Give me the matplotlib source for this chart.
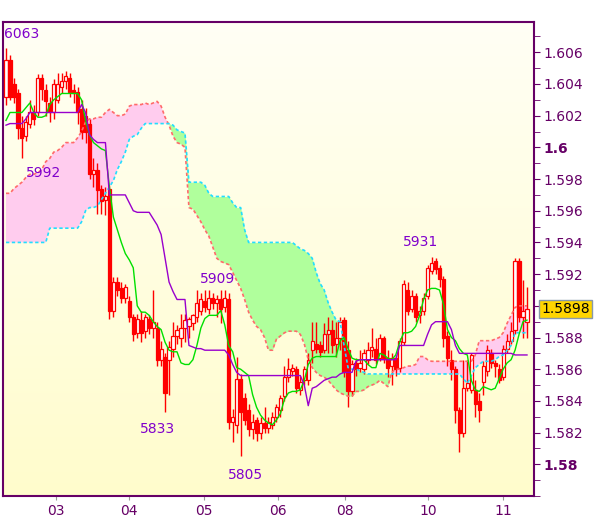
"""
Hourly candles with Ichimoku lines (tenkan, kijun, cloud) - redraw of a trading chart.
Values are kept in pips: price = 1 + pips / 10000
"""

import numpy as np
import matplotlib
matplotlib.use("Agg")
import matplotlib.pyplot as plt
from matplotlib.ticker import MultipleLocator

OUTPUT_IMAGE = "out.png"

# ── Candles (pips) ─────────────────────────────────
opens = [6032, 6055, 6040, 6034, 6012, 6007, 6015, 6022, 6022, 6044,
         6036, 6028, 6022, 6030, 6038, 6042, 6044, 6036, 6035, 6024,
         6020, 6015, 5983, 5986, 5974, 5967, 5974, 5897, 5915, 5911,
         5905, 5903, 5893, 5883, 5891, 5884, 5892, 5886, 5886, 5866,
         5868, 5866, 5873, 5881, 5880, 5886, 5887, 5889, 5893, 5897,
         5903, 5898, 5905, 5902, 5904, 5899, 5904, 5827, 5825, 5854,
         5842, 5834, 5822, 5828, 5820, 5826, 5823, 5825, 5830, 5834,
         5843, 5855, 5859, 5860, 5847, 5853, 5853, 5872, 5876, 5875,
         5872, 5882, 5885, 5876, 5880, 5891, 5872, 5846, 5864, 5861,
         5860, 5866, 5872, 5873, 5867, 5880, 5867, 5862, 5867, 5861,
         5877, 5910, 5898, 5906, 5894, 5897, 5906, 5922, 5928, 5924,
         5917, 5881, 5866, 5860, 5834, 5820, 5848, 5847, 5847, 5840,
         5852, 5859, 5870, 5864, 5860, 5855, 5873, 5878, 5885, 5928,
         5893, 5890]
highs = [6063, 6058, 6044, 6037, 6020, 6020, 6030, 6027, 6046, 6046,
         6040, 6032, 6043, 6047, 6047, 6048, 6047, 6040, 6038, 6030,
         6025, 6018, 5993, 5990, 5976, 5975, 5976, 5918, 5918, 5915,
         5914, 5906, 5895, 5895, 5897, 5895, 5894, 5910, 5890, 5878,
         5870, 5878, 5890, 5888, 5895, 5895, 5893, 5895, 5910, 5908,
         5910, 5910, 5908, 5907, 5910, 5910, 5908, 5835, 5868, 5857,
         5845, 5838, 5832, 5830, 5830, 5836, 5830, 5833, 5838, 5844,
         5862, 5867, 5863, 5862, 5856, 5862, 5870, 5890, 5890, 5878,
         5889, 5893, 5891, 5890, 5893, 5893, 5878, 5866, 5867, 5872,
         5873, 5877, 5886, 5880, 5882, 5881, 5872, 5870, 5869, 5880,
         5916, 5915, 5910, 5908, 5900, 5908, 5926, 5931, 5930, 5926,
         5919, 5884, 5872, 5862, 5836, 5866, 5866, 5870, 5853, 5845,
         5865, 5875, 5873, 5866, 5863, 5875, 5882, 5890, 5930, 5930,
         5916, 5912]
lows = [6027, 6030, 6028, 6005, 5993, 6004, 6012, 6014, 6020, 6030,
        6020, 6016, 6018, 6028, 6034, 6037, 6032, 6028, 6015, 6005,
        6003, 5980, 5975, 5958, 5958, 5957, 5892, 5893, 5906, 5902,
        5902, 5890, 5878, 5880, 5877, 5880, 5882, 5880, 5862, 5862,
        5833, 5844, 5868, 5876, 5874, 5877, 5880, 5885, 5890, 5894,
        5896, 5895, 5898, 5893, 5889, 5896, 5822, 5814, 5820, 5805,
        5825, 5818, 5816, 5815, 5816, 5820, 5820, 5822, 5827, 5830,
        5840, 5852, 5856, 5845, 5844, 5850, 5850, 5864, 5870, 5868,
        5870, 5870, 5870, 5868, 5872, 5855, 5836, 5843, 5856, 5858,
        5857, 5863, 5868, 5863, 5865, 5864, 5855, 5850, 5856, 5858,
        5875, 5894, 5896, 5890, 5889, 5894, 5904, 5920, 5920, 5912,
        5874, 5862, 5853, 5826, 5808, 5817, 5846, 5845, 5830, 5827,
        5844, 5856, 5861, 5855, 5851, 5853, 5870, 5876, 5882, 5890,
        5880, 5880]
closes = [6055, 6032, 6032, 6012, 6006, 6016, 6022, 6018, 6044, 6037,
          6029, 6022, 6040, 6040, 6042, 6045, 6035, 6034, 6022, 6010,
          6010, 5983, 5986, 5973, 5966, 5969, 5897, 5915, 5910, 5905,
          5912, 5893, 5882, 5892, 5883, 5893, 5886, 5890, 5866, 5873,
          5845, 5874, 5881, 5885, 5886, 5891, 5892, 5894, 5902, 5904,
          5899, 5905, 5902, 5904, 5898, 5905, 5827, 5830, 5854, 5833,
          5828, 5822, 5827, 5820, 5826, 5823, 5827, 5830, 5836, 5842,
          5855, 5860, 5861, 5848, 5852, 5860, 5866, 5878, 5873, 5871,
          5882, 5885, 5875, 5880, 5890, 5858, 5846, 5863, 5860, 5864,
          5870, 5872, 5874, 5866, 5880, 5867, 5861, 5867, 5860, 5878,
          5914, 5897, 5906, 5893, 5897, 5905, 5924, 5927, 5923, 5917,
          5880, 5867, 5860, 5834, 5820, 5848, 5851, 5869, 5838, 5834,
          5862, 5872, 5864, 5862, 5853, 5873, 5878, 5884, 5928, 5893,
          5897, 5898]

# ── Ichimoku lines (pips) ──────────────────────────
tenkan = [6017, 6022, 6022, 6022, 6022, 6025, 6028, 6022, 6019, 6019,
          6020, 6027, 6030, 6032, 6034, 6034, 6034, 6034, 6034, 6030,
          6017, 6008, 6003, 6001, 5999, 5998, 5975, 5956, 5948, 5940,
          5933, 5929, 5924, 5900, 5896, 5896, 5894, 5890, 5887, 5885,
          5877, 5872, 5871, 5871, 5864, 5863, 5863, 5866, 5875, 5886,
          5892, 5894, 5894, 5894, 5897, 5888, 5875, 5871, 5861, 5860,
          5858, 5856, 5844, 5836, 5831, 5828, 5826, 5825, 5828, 5832,
          5841, 5845, 5846, 5846, 5847, 5853, 5863, 5867, 5868, 5868,
          5868, 5868, 5868, 5868, 5878, 5880, 5873, 5867, 5866, 5866,
          5866, 5863, 5861, 5861, 5870, 5869, 5867, 5866, 5869, 5877,
          5883, 5883, 5884, 5887, 5894, 5904, 5910, 5911, 5911, 5910,
          5901, 5885, 5880, 5878, 5873, 5870, 5869, 5853, 5847, 5846,
          5849, 5848, 5847, 5848, 5854, 5860, 5864, 5866, 5872, 5882,
          5890, 5891]
kijun = [6014, 6015, 6015, 6015, 6015, 6018, 6022, 6022, 6022, 6022,
         6022, 6022, 6022, 6022, 6022, 6022, 6022, 6022, 6022, 6027,
         6022, 6008, 6005, 6003, 6003, 6003, 5970, 5970, 5970, 5970,
         5970, 5965, 5960, 5959, 5959, 5959, 5959, 5955, 5951, 5945,
         5930, 5915, 5909, 5904, 5904, 5904, 5875, 5874, 5873, 5873,
         5872, 5872, 5872, 5872, 5872, 5872, 5869, 5863, 5858, 5856,
         5856, 5856, 5856, 5856, 5856, 5856, 5856, 5856, 5856, 5856,
         5856, 5856, 5856, 5856, 5856, 5850, 5837, 5848, 5849, 5851,
         5853, 5854, 5855, 5855, 5857, 5858, 5858, 5858, 5865, 5866,
         5866, 5866, 5866, 5866, 5866, 5866, 5866, 5866, 5866, 5875,
         5875, 5875, 5875, 5875, 5875, 5875, 5882, 5888, 5890, 5890,
         5890, 5890, 5885, 5875, 5870, 5870, 5870, 5870, 5870, 5870,
         5870, 5870, 5870, 5870, 5870, 5870, 5870, 5870, 5869, 5869,
         5869, 5869]
span_a = [5971, 5971, 5974, 5976, 5978, 5981, 5983, 5983, 5984, 5986,
          5991, 5993, 5997, 5998, 6000, 6003, 6003, 6003, 6006, 6010,
          6016, 6018, 6018, 6019, 6019, 6022, 6024, 6022, 6020, 6020,
          6021, 6026, 6027, 6027, 6027, 6028, 6027, 6028, 6029, 6026,
          6019, 6014, 6007, 6003, 6002, 6000, 5962, 5961, 5957, 5953,
          5948, 5944, 5937, 5930, 5928, 5927, 5926, 5921, 5916, 5911,
          5904, 5896, 5891, 5887, 5885, 5880, 5872, 5872, 5879, 5881,
          5883, 5884, 5884, 5884, 5882, 5876, 5866, 5861, 5858, 5856,
          5855, 5853, 5850, 5847, 5845, 5844, 5843, 5843, 5846, 5846,
          5847, 5849, 5850, 5851, 5853, 5851, 5849, 5858, 5860, 5860,
          5861, 5862, 5862, 5863, 5868, 5868, 5866, 5865, 5865, 5865,
          5865, 5865, 5865, 5865, 5865, 5865, 5865, 5865, 5869, 5878,
          5878, 5878, 5878, 5879, 5880, 5883, 5889, 5894, 5899, 5900,
          5900, 5900]
span_b = [5940, 5940, 5940, 5940, 5940, 5940, 5940, 5940, 5940, 5940,
          5940, 5949, 5949, 5949, 5949, 5949, 5949, 5949, 5949, 5953,
          5960, 5962, 5962, 5963, 5967, 5971, 5975, 5979, 5986, 5991,
          5997, 6005, 6007, 6008, 6012, 6015, 6015, 6015, 6015, 6015,
          6015, 6015, 6014, 6011, 6010, 6009, 5978, 5978, 5978, 5978,
          5976, 5971, 5969, 5969, 5969, 5969, 5969, 5965, 5962, 5962,
          5948, 5940, 5940, 5940, 5940, 5940, 5940, 5940, 5940, 5940,
          5940, 5940, 5940, 5938, 5936, 5935, 5933, 5930, 5921, 5914,
          5910, 5902, 5896, 5891, 5890, 5875, 5861, 5860, 5860, 5859,
          5858, 5857, 5857, 5857, 5857, 5857, 5857, 5857, 5857, 5857,
          5857, 5857, 5857, 5857, 5857, 5857, 5857, 5857, 5857, 5857,
          5857, 5857, 5857, 5857, 5857, 5854, 5851, 5856, 5861, 5863,
          5865, 5865, 5865, 5866, 5868, 5869, 5872, 5875, 5883, 5883,
          5883, 5883]

# ── Axis labels / notes ────────────────────────────
day_labels = ["03", "04", "05", "06", "08", "10", "11"]
day_pos    = [12.6, 30.9, 49.7, 68.3, 85.2, 106.1, 125.0]   # in bar units

# extreme-price notes: (text, bar, pips, align)
notes = [("6063", -0.5, 6071.5, "left"),
         ("5992", 9.4, 5984, "center"),
         ("5909", 53.2, 5917, "center"),
         ("5833", 38.2, 5822, "center"),
         ("5805", 60.2, 5793, "center"),
         ("5931", 104.2, 5940, "center")]
last_price = 5898

FRAME  = "#660066"
NOTE   = "#8000CC"


def to_price(a):
    return 1 + np.asarray(a, dtype=float) / 10000


def main():
    O, H, L, C = map(to_price, (opens, highs, lows, closes))
    H = np.maximum(H, np.maximum(O, C))
    L = np.minimum(L, np.minimum(O, C))
    TK, KJ, SA, SB = map(to_price, (tenkan, kijun, span_a, span_b))
    x = np.arange(len(O))

    fig = plt.figure(figsize=(6.0, 5.19), dpi=100)
    fig.patch.set_facecolor("white")
    ax = fig.add_axes([3 / 600, 23 / 519, 531 / 600, 474 / 519])

    # background gradient
    t = np.linspace(0, 1, 200)[:, None]
    top = np.array([1.0, 1.0, 0.96])
    bot = np.array([1.0, 0.99, 0.80])
    grad = top + (bot - top) * t
    ax.imshow(grad[:, None, :], extent=[0, 1, 0, 1], transform=ax.transAxes,
              aspect="auto", zorder=0, interpolation="bilinear")

    # cloud
    ax.fill_between(x, SA, SB, where=SA >= SB, interpolate=True,
                    color="#FFCCEE", lw=0, zorder=1)
    ax.fill_between(x, SA, SB, where=SA < SB, interpolate=True,
                    color="#B0FF9C", lw=0, zorder=1)

    # candles
    up = C >= O
    body_lo = np.minimum(O, C)
    body_h = np.maximum(np.abs(C - O), 0.00004)
    ax.vlines(x, L, H, color="#FF0000", lw=1.0, zorder=3)
    ax.bar(x, body_h, bottom=body_lo, width=0.8,
           color=["white" if u else "#FF0000" for u in up],
           edgecolor="#FF0000", linewidth=0.9, zorder=3.5)

    # ichimoku lines
    ax.plot(x, SA, color="#FF6A6A", lw=1.2, ls=(0, (2, 1.5)), zorder=4)
    ax.plot(x, SB, color="#22DDFF", lw=1.2, ls=(0, (2, 1.5)), zorder=4)
    ax.plot(x, TK, color="#00E000", lw=1.0, zorder=5)
    ax.plot(x, KJ, color="#9900CC", lw=1.0, zorder=5)

    # notes
    for txt, bx, pv, ha in notes:
        ax.text(bx, to_price(pv), txt, color=NOTE, fontsize=10,
                ha=ha, va="center", zorder=6)

    ax.set_xlim(-0.754, 132.76)
    ax.set_ylim(1.5780, 1.60791)

    # y axis on the right; the 1.59 label sits under the last-price tag
    yt = np.arange(1.580, 1.6061, 0.002)
    ylabels = [f"{v:.3f}".rstrip("0").rstrip(".") for v in yt]
    ylabels = ["" if lab == "1.59" else lab for lab in ylabels]
    ax.yaxis.tick_right()
    ax.set_yticks(yt)
    ax.set_yticklabels(ylabels)
    ax.yaxis.set_minor_locator(MultipleLocator(0.001))
    for lab, v in zip(ax.get_yticklabels(), yt):
        if abs(v - 1.6) < 1e-9 or abs(v - 1.58) < 1e-9:
            lab.set_fontweight("bold")
    ax.tick_params(axis="y", which="both", direction="out", length=4,
                   color=FRAME, labelcolor=FRAME, labelsize=10, pad=3)

    ax.set_xticks(day_pos)
    ax.set_xticklabels(day_labels)
    ax.tick_params(axis="x", direction="out", length=3, color="#999999",
                   labelcolor=FRAME, labelsize=10, pad=3)

    for sp in ax.spines.values():
        sp.set_color(FRAME)
        sp.set_linewidth(1.5)

    # last price tag
    ax.annotate(f"{1 + last_price / 10000:.4f}", xy=(1, to_price(last_price)),
                xycoords=("axes fraction", "data"), xytext=(5, 0),
                textcoords="offset points", ha="left", va="center",
                fontsize=10, color="black", annotation_clip=False, zorder=10,
                bbox=dict(boxstyle="square,pad=0.15", facecolor="#FFD500",
                          edgecolor="#8899AA", linewidth=1))

    fig.savefig(OUTPUT_IMAGE, dpi=100)
    plt.close(fig)


if __name__ == "__main__":
    main()
